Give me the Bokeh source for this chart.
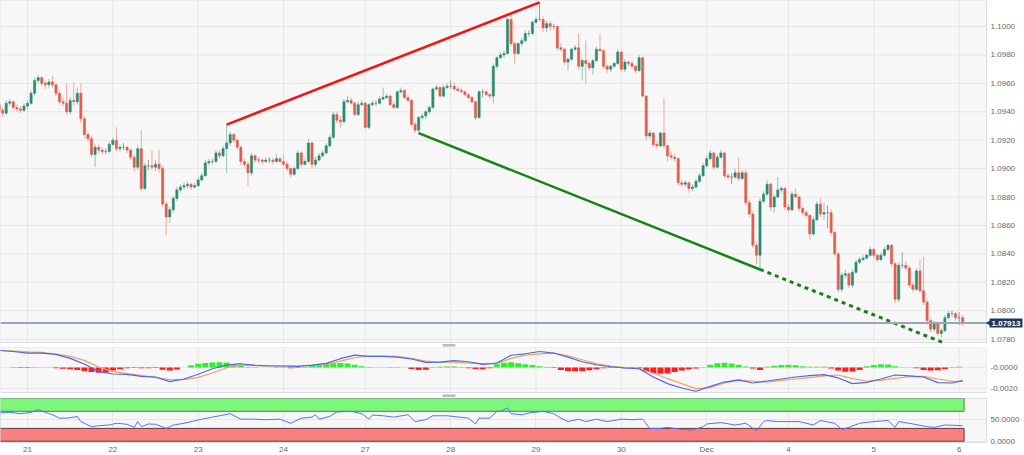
from bokeh.plotting import figure
from bokeh.layouts import column
from bokeh.models import (ColumnDataSource, Range1d, FixedTicker, PrintfTickFormatter, Label)
from bokeh.embed import file_html
from bokeh.resources import INLINE
from bokeh.core.properties import value

# ---------------- hourly EUR/USD candles (Nov 20 16:00 .. Dec 6 01:00) ----------------
opens = [
    1.0945, 1.0941, 1.0939, 1.0946, 1.0947, 1.0943, 1.0942, 1.0941, 1.0944, 1.0946,
    1.0953, 1.0962, 1.0964, 1.0960, 1.0959, 1.0961, 1.0959, 1.0953, 1.0947, 1.0946,
    1.0940, 1.0948, 1.0947, 1.0953, 1.0935, 1.0924, 1.0921, 1.0910, 1.0915, 1.0913,
    1.0912, 1.0912, 1.0917, 1.0920, 1.0914, 1.0915, 1.0915, 1.0913, 1.0908, 1.0901,
    1.0914, 1.0886, 1.0902, 1.0902, 1.0901, 1.0903, 1.0900, 1.0875, 1.0866, 1.0871,
    1.0879, 1.0885, 1.0887, 1.0888, 1.0889, 1.0887, 1.0888, 1.0892, 1.0895, 1.0904,
    1.0905, 1.0905, 1.0911, 1.0909, 1.0914, 1.0918, 1.0924, 1.0920, 1.0915, 1.0905,
    1.0903, 1.0897, 1.0909, 1.0906, 1.0906, 1.0905, 1.0906, 1.0906, 1.0905, 1.0907,
    1.0905, 1.0903, 1.0900, 1.0896, 1.0900, 1.0911, 1.0903, 1.0905, 1.0918, 1.0903,
    1.0906, 1.0909, 1.0911, 1.0916, 1.0922, 1.0938, 1.0934, 1.0933, 1.0947, 1.0948,
    1.0946, 1.0938, 1.0945, 1.0946, 1.0929, 1.0945, 1.0946, 1.0946, 1.0949, 1.0950,
    1.0951, 1.0945, 1.0943, 1.0954, 1.0955, 1.0950, 1.0948, 1.0931, 1.0927, 1.0936,
    1.0937, 1.0940, 1.0943, 1.0956, 1.0957, 1.0951, 1.0957, 1.0958, 1.0958, 1.0956,
    1.0955, 1.0954, 1.0952, 1.0950, 1.0947, 1.0936, 1.0954, 1.0954, 1.0952, 1.0951,
    1.0972, 1.0978, 1.0980, 1.0981, 1.1005, 1.0988, 1.0981, 1.0988, 1.0990, 1.0995,
    1.0995, 1.1003, 1.1005, 1.1005, 1.0999, 1.1002, 1.1000, 1.1000, 1.0985, 1.0984,
    1.0975, 1.0977, 1.0984, 1.0985, 1.0972, 1.0976, 1.0974, 1.0971, 1.0976, 1.0984,
    1.0983, 1.0972, 1.0970, 1.0972, 1.0974, 1.0982, 1.0970, 1.0975, 1.0974, 1.0972,
    1.0969, 1.0978, 1.0951, 1.0923, 1.0925, 1.0917, 1.0916, 1.0925, 1.0916, 1.0909,
    1.0908, 1.0907, 1.0890, 1.0889, 1.0890, 1.0886, 1.0887, 1.0891, 1.0895, 1.0902,
    1.0907, 1.0911, 1.0901, 1.0908, 1.0911, 1.0895, 1.0894, 1.0894, 1.0897, 1.0893,
    1.0897, 1.0876, 1.0868, 1.0846, 1.0839, 1.0877, 1.0882, 1.0889, 1.0873, 1.0880,
    1.0885, 1.0886, 1.0873, 1.0871, 1.0882, 1.0880, 1.0872, 1.0869, 1.0867, 1.0854,
    1.0864, 1.0875, 1.0868, 1.0869, 1.0869, 1.0855, 1.0840, 1.0815, 1.0825, 1.0826,
    1.0818, 1.0827, 1.0834, 1.0836, 1.0837, 1.0839, 1.0843, 1.0839, 1.0836, 1.0839,
    1.0843, 1.0846, 1.0833, 1.0808, 1.0832, 1.0832, 1.0830, 1.0818, 1.0815, 1.0828,
    1.0814, 1.0806, 1.0793, 1.0787, 1.0791, 1.0784, 1.0786, 1.0795, 1.0798, 1.0798,
    1.0795, 1.0795,
]
highs = [
    1.0947, 1.0943, 1.0948, 1.0949, 1.0948, 1.0945, 1.0944, 1.0946, 1.0948, 1.0955,
    1.0964, 1.0966, 1.0965, 1.0962, 1.0963, 1.0965, 1.0960, 1.0955, 1.0950, 1.0960,
    1.0950, 1.0961, 1.0957, 1.0960, 1.0937, 1.0926, 1.0923, 1.0917, 1.0917, 1.0915,
    1.0914, 1.0919, 1.0922, 1.0929, 1.0917, 1.0918, 1.0916, 1.0914, 1.0910, 1.0916,
    1.0927, 1.0904, 1.0906, 1.0913, 1.0906, 1.0913, 1.0902, 1.0877, 1.0873, 1.0881,
    1.0887, 1.0889, 1.0890, 1.0891, 1.0890, 1.0890, 1.0894, 1.0897, 1.0906, 1.0907,
    1.0907, 1.0913, 1.0913, 1.0916, 1.0931, 1.0926, 1.0925, 1.0921, 1.0916, 1.0907,
    1.0905, 1.0911, 1.0910, 1.0908, 1.0907, 1.0908, 1.0908, 1.0907, 1.0910, 1.0908,
    1.0910, 1.0905, 1.0901, 1.0902, 1.0913, 1.0912, 1.0907, 1.0921, 1.0919, 1.0908,
    1.0911, 1.0913, 1.0918, 1.0924, 1.0940, 1.0940, 1.0937, 1.0949, 1.0951, 1.0950,
    1.0947, 1.0947, 1.0948, 1.0947, 1.0946, 1.0948, 1.0948, 1.0951, 1.0957, 1.0953,
    1.0952, 1.0947, 1.0955, 1.0957, 1.0956, 1.0952, 1.0949, 1.0933, 1.0937, 1.0939,
    1.0941, 1.0944, 1.0957, 1.0959, 1.0958, 1.0959, 1.0960, 1.0962, 1.0961, 1.0958,
    1.0957, 1.0955, 1.0953, 1.0951, 1.0948, 1.0955, 1.0956, 1.0955, 1.0953, 1.0974,
    1.0979, 1.0982, 1.0983, 1.1006, 1.1008, 1.0989, 1.0989, 1.0992, 1.0997, 1.0997,
    1.1004, 1.1007, 1.1017, 1.1007, 1.1004, 1.1004, 1.1002, 1.1001, 1.0988, 1.0985,
    1.0978, 1.0985, 1.0987, 1.0995, 1.0978, 1.0990, 1.0975, 1.0977, 1.0986, 1.0995,
    1.0984, 1.0973, 1.0973, 1.0975, 1.0984, 1.0983, 1.0977, 1.0976, 1.0976, 1.0973,
    1.0980, 1.0979, 1.0952, 1.0927, 1.0926, 1.0919, 1.0926, 1.0950, 1.0917, 1.0912,
    1.0910, 1.0908, 1.0892, 1.0892, 1.0891, 1.0889, 1.0893, 1.0897, 1.0904, 1.0909,
    1.0913, 1.0912, 1.0910, 1.0913, 1.0912, 1.0897, 1.0897, 1.0900, 1.0908, 1.0899,
    1.0899, 1.0878, 1.0870, 1.0848, 1.0879, 1.0884, 1.0892, 1.0890, 1.0882, 1.0894,
    1.0888, 1.0887, 1.0875, 1.0884, 1.0886, 1.0881, 1.0873, 1.0871, 1.0868, 1.0866,
    1.0877, 1.0879, 1.0876, 1.0874, 1.0871, 1.0856, 1.0841, 1.0827, 1.0829, 1.0827,
    1.0829, 1.0836, 1.0838, 1.0839, 1.0840, 1.0845, 1.0844, 1.0840, 1.0841, 1.0845,
    1.0847, 1.0847, 1.0834, 1.0834, 1.0841, 1.0835, 1.0832, 1.0820, 1.0830, 1.0836,
    1.0838, 1.0808, 1.0795, 1.0793, 1.0792, 1.0788, 1.0797, 1.0800, 1.0800, 1.0799,
    1.0799, 1.0797,
]
lows = [
    1.0939, 1.0936, 1.0938, 1.0944, 1.0941, 1.0940, 1.0939, 1.0940, 1.0942, 1.0945,
    1.0951, 1.0960, 1.0958, 1.0956, 1.0957, 1.0957, 1.0951, 1.0945, 1.0944, 1.0938,
    1.0938, 1.0944, 1.0945, 1.0932, 1.0922, 1.0919, 1.0908, 1.0901, 1.0911, 1.0910,
    1.0910, 1.0911, 1.0916, 1.0912, 1.0912, 1.0913, 1.0911, 1.0906, 1.0898, 1.0899,
    1.0884, 1.0885, 1.0899, 1.0899, 1.0898, 1.0897, 1.0873, 1.0853, 1.0862, 1.0869,
    1.0877, 1.0883, 1.0885, 1.0886, 1.0885, 1.0886, 1.0887, 1.0891, 1.0894, 1.0902,
    1.0903, 1.0904, 1.0907, 1.0908, 1.0897, 1.0916, 1.0918, 1.0913, 1.0902, 1.0901,
    1.0888, 1.0895, 1.0904, 1.0904, 1.0903, 1.0904, 1.0904, 1.0903, 1.0904, 1.0904,
    1.0902, 1.0898, 1.0894, 1.0895, 1.0899, 1.0901, 1.0902, 1.0904, 1.0900, 1.0901,
    1.0905, 1.0908, 1.0910, 1.0915, 1.0921, 1.0932, 1.0929, 1.0932, 1.0946, 1.0945,
    1.0937, 1.0937, 1.0944, 1.0928, 1.0928, 1.0944, 1.0944, 1.0945, 1.0948, 1.0949,
    1.0944, 1.0942, 1.0942, 1.0953, 1.0949, 1.0947, 1.0930, 1.0925, 1.0925, 1.0934,
    1.0935, 1.0938, 1.0942, 1.0955, 1.0950, 1.0950, 1.0956, 1.0956, 1.0955, 1.0954,
    1.0953, 1.0951, 1.0949, 1.0946, 1.0934, 1.0935, 1.0950, 1.0951, 1.0949, 1.0946,
    1.0970, 1.0977, 1.0978, 1.0980, 1.0986, 1.0974, 1.0980, 1.0986, 1.0989, 1.0993,
    1.0994, 1.1002, 1.1004, 1.0996, 1.0996, 1.0997, 1.0998, 1.0983, 1.0982, 1.0973,
    1.0969, 1.0976, 1.0983, 1.0970, 1.0962, 1.0960, 1.0969, 1.0966, 1.0975, 1.0982,
    1.0970, 1.0967, 1.0968, 1.0971, 1.0973, 1.0968, 1.0968, 1.0972, 1.0970, 1.0967,
    1.0968, 1.0950, 1.0920, 1.0921, 1.0915, 1.0914, 1.0915, 1.0914, 1.0905, 1.0906,
    1.0905, 1.0888, 1.0887, 1.0887, 1.0883, 1.0884, 1.0886, 1.0890, 1.0894, 1.0901,
    1.0906, 1.0899, 1.0900, 1.0907, 1.0893, 1.0892, 1.0889, 1.0893, 1.0891, 1.0892,
    1.0874, 1.0866, 1.0844, 1.0833, 1.0829, 1.0876, 1.0881, 1.0870, 1.0869, 1.0879,
    1.0883, 1.0871, 1.0869, 1.0870, 1.0879, 1.0870, 1.0867, 1.0865, 1.0850, 1.0853,
    1.0863, 1.0866, 1.0864, 1.0858, 1.0853, 1.0838, 1.0813, 1.0813, 1.0823, 1.0816,
    1.0816, 1.0826, 1.0833, 1.0835, 1.0836, 1.0838, 1.0837, 1.0834, 1.0835, 1.0838,
    1.0842, 1.0831, 1.0805, 1.0806, 1.0830, 1.0828, 1.0816, 1.0813, 1.0814, 1.0812,
    1.0804, 1.0790, 1.0785, 1.0785, 1.0782, 1.0781, 1.0785, 1.0794, 1.0796, 1.0793,
    1.0790, 1.0789,
]
closes = [
    1.0941, 1.0939, 1.0946, 1.0947, 1.0943, 1.0942, 1.0941, 1.0944, 1.0946, 1.0953,
    1.0962, 1.0964, 1.0960, 1.0959, 1.0961, 1.0959, 1.0953, 1.0947, 1.0946, 1.0940,
    1.0948, 1.0947, 1.0953, 1.0935, 1.0924, 1.0921, 1.0910, 1.0915, 1.0913, 1.0912,
    1.0912, 1.0917, 1.0920, 1.0914, 1.0915, 1.0915, 1.0913, 1.0908, 1.0901, 1.0914,
    1.0886, 1.0902, 1.0902, 1.0901, 1.0903, 1.0900, 1.0875, 1.0866, 1.0871, 1.0879,
    1.0885, 1.0887, 1.0888, 1.0889, 1.0887, 1.0888, 1.0892, 1.0895, 1.0904, 1.0905,
    1.0905, 1.0911, 1.0909, 1.0914, 1.0918, 1.0924, 1.0920, 1.0915, 1.0905, 1.0903,
    1.0897, 1.0909, 1.0906, 1.0906, 1.0905, 1.0906, 1.0906, 1.0905, 1.0907, 1.0905,
    1.0903, 1.0900, 1.0896, 1.0900, 1.0911, 1.0903, 1.0905, 1.0918, 1.0903, 1.0906,
    1.0909, 1.0911, 1.0916, 1.0922, 1.0938, 1.0934, 1.0933, 1.0947, 1.0948, 1.0946,
    1.0938, 1.0945, 1.0946, 1.0929, 1.0945, 1.0946, 1.0946, 1.0949, 1.0950, 1.0951,
    1.0945, 1.0943, 1.0954, 1.0955, 1.0950, 1.0948, 1.0931, 1.0927, 1.0936, 1.0937,
    1.0940, 1.0943, 1.0956, 1.0957, 1.0951, 1.0957, 1.0958, 1.0958, 1.0956, 1.0955,
    1.0954, 1.0952, 1.0950, 1.0947, 1.0936, 1.0954, 1.0954, 1.0952, 1.0951, 1.0972,
    1.0978, 1.0980, 1.0981, 1.1005, 1.0988, 1.0981, 1.0988, 1.0990, 1.0995, 1.0995,
    1.1003, 1.1005, 1.1005, 1.0999, 1.1002, 1.1000, 1.1000, 1.0985, 1.0984, 1.0975,
    1.0977, 1.0984, 1.0985, 1.0972, 1.0976, 1.0974, 1.0971, 1.0976, 1.0984, 1.0983,
    1.0972, 1.0970, 1.0972, 1.0974, 1.0982, 1.0970, 1.0975, 1.0974, 1.0972, 1.0969,
    1.0978, 1.0951, 1.0923, 1.0925, 1.0917, 1.0916, 1.0925, 1.0916, 1.0909, 1.0908,
    1.0907, 1.0890, 1.0889, 1.0890, 1.0886, 1.0887, 1.0891, 1.0895, 1.0902, 1.0907,
    1.0911, 1.0901, 1.0908, 1.0911, 1.0895, 1.0894, 1.0894, 1.0897, 1.0893, 1.0897,
    1.0876, 1.0868, 1.0846, 1.0839, 1.0877, 1.0882, 1.0889, 1.0873, 1.0880, 1.0885,
    1.0886, 1.0873, 1.0871, 1.0882, 1.0880, 1.0872, 1.0869, 1.0867, 1.0854, 1.0864,
    1.0875, 1.0868, 1.0869, 1.0869, 1.0855, 1.0840, 1.0815, 1.0825, 1.0826, 1.0818,
    1.0827, 1.0834, 1.0836, 1.0837, 1.0839, 1.0843, 1.0839, 1.0836, 1.0839, 1.0843,
    1.0846, 1.0833, 1.0808, 1.0832, 1.0832, 1.0830, 1.0818, 1.0815, 1.0828, 1.0814,
    1.0806, 1.0793, 1.0787, 1.0791, 1.0784, 1.0786, 1.0795, 1.0798, 1.0798, 1.0795,
    1.0795, 1.07913,
]

# day separators (bar index of each day's 00:00) and their labels
day_pos = [8, 32, 56, 80, 103, 127, 151, 175, 199, 222, 246, 270]
day_labels = ["21", "22", "23", "24", "27", "28", "29", "30", "Dec", "4", "5", "6"]
price_ticks = [1.0780, 1.0800, 1.0820, 1.0840, 1.0860, 1.0880, 1.0900,
               1.0920, 1.0940, 1.0960, 1.0980, 1.1000]
macd_ticks = [-0.002, 0.0]
rsi_ticks = [0, 50]

# trend lines (bar index, price)
red_line_x = [64, 152]
red_line_y = [1.0931, 1.1017]
green_line_x = [118, 214]
green_line_y = [1.0925, 1.0829]
green_ext_x = [214, 266]
green_ext_y = [1.0829, 1.0777]

# ---------------- MACD (blue), signal (orange), histogram ----------------
macd_idx = [0, 4, 8, 12, 16, 20, 24, 28, 32, 36, 40, 44, 48, 52, 56, 60, 64, 68, 72, 76,
            80, 84, 88, 92, 96, 100, 104, 108, 112, 116, 120, 124, 128, 132, 136, 140,
            144, 148, 152, 156, 160, 164, 168, 172, 176, 180, 184, 188, 192, 196, 200,
            204, 208, 212, 216, 220, 224, 228, 232, 236, 240, 244, 248, 252, 256, 260,
            264, 268, 271]
macd_line = [0.00162, 0.00152, 0.00137, 0.00137, 0.00124, 0.00086, 0.00032, -0.00041,
             -0.00063, -0.00066, -0.00086, -0.00092, -0.00136, -0.00111, -0.00066,
             -0.00013, 0.00022, 0.00035, 0.00019, 0.00013, 0.00013, 0.00010, 0.00022,
             0.00038, 0.00083, 0.00117, 0.00105, 0.00105, 0.00098, 0.00080, 0.00048,
             0.00051, 0.00064, 0.00054, 0.00029, 0.00041, 0.00116, 0.00130, 0.00152,
             0.00137, 0.00098, 0.00054, 0.00025, 0.00006, -0.00006, -0.00013, -0.00092,
             -0.00155, -0.00197, -0.00228, -0.00181, -0.00140, -0.00120, -0.00149,
             -0.00130, -0.00111, -0.00092, -0.00079, -0.00070, -0.00101, -0.00155,
             -0.00143, -0.00111, -0.00073, -0.00082, -0.00092, -0.00146, -0.00149,
             -0.00127]
signal_line = [0.00162, 0.00156, 0.00149, 0.00143, 0.00127, 0.00105, 0.00067, 0.00003,
               -0.00041, -0.00060, -0.00076, -0.00098, -0.00117, -0.00117, -0.00095,
               -0.00054, -0.00003, 0.00022, 0.00019, 0.00016, 0.00013, 0.00013, 0.00019,
               0.00032, 0.00060, 0.00092, 0.00108, 0.00108, 0.00105, 0.00086, 0.00060,
               0.00051, 0.00051, 0.00041, 0.00035, 0.00038, 0.00086, 0.00117, 0.00130,
               0.00137, 0.00111, 0.00073, 0.00035, 0.00013, -0.00003, -0.00013, -0.00054,
               -0.00108, -0.00155, -0.00203, -0.00194, -0.00149, -0.00124, -0.00130,
               -0.00140, -0.00124, -0.00111, -0.00098, -0.00082, -0.00073, -0.00108,
               -0.00130, -0.00124, -0.00105, -0.00089, -0.00086, -0.00111, -0.00133,
               -0.00133]
hist_vals = [0.0, 0.0, -0.00004, -0.00006, -0.00006, -0.00003, 0.00002, 0.00001,
             -0.00008, -0.00013, -0.00019, -0.00025, -0.00035, -0.00044, -0.00052,
             -0.00050, -0.00030, -0.00018, -0.00008, -0.00006, -0.00008, -0.00008,
             -0.00006, -0.00022, -0.00029, -0.00020, -0.00002, 0.00020, 0.00035,
             0.00042, 0.00047, 0.00049, 0.00047, 0.00030, 0.00015, 0.00004, -0.00003,
             -0.00002, -0.00002, -0.00003, -0.00004, -0.00008, -0.00006, 0.00004,
             0.00020, 0.00030, 0.00035, 0.00040, 0.00042, 0.00038, 0.00025, 0.00012,
             0.00003, 0.00002, 0.00001, -0.00004, -0.00004, -0.00002, -0.00015,
             -0.00025, -0.00022, -0.00003, 0.00006, 0.00008, 0.00008, 0.00004,
             -0.00008, -0.00015, -0.00018, -0.00008, 0.00030, 0.00045, 0.00048,
             0.00040, 0.00030, 0.00022, 0.00012, 0.00003, -0.00006, -0.00025,
             -0.00035, -0.00038, -0.00035, -0.00028, -0.00015, -0.00008, -0.00006,
             -0.00006, -0.00008, -0.00006, -0.00010, -0.00040, -0.00055, -0.00060,
             -0.00058, -0.00045, -0.00030, -0.00018, -0.00010, -0.00004, 0.00025,
             0.00040, 0.00044, 0.00038, 0.00025, 0.00008, -0.00010, -0.00025, 0.00005,
             0.00015, 0.00022, 0.00026, 0.00020, 0.00012, 0.00005, 0.00006, 0.00005,
             -0.00010, -0.00030, -0.00042, -0.00040, -0.00025, 0.00010, 0.00022,
             0.00030, 0.00028, 0.00012, 0.00002, 0.00001, -0.00008, -0.00025, -0.00030,
             -0.00028, -0.00015, 0.00004, 0.00006]
hist_idx = list(range(0, 2 * len(hist_vals), 2))

# ---------------- RSI ----------------
rsi_idx = [0, 3, 6, 9, 11, 13, 15, 17, 19, 21, 22, 23, 26, 28, 31, 33, 36, 38, 39, 40,
           42, 44, 47, 49, 52, 57, 60, 65, 68, 71, 75, 79, 82, 85, 88, 89, 90, 93, 95,
           99, 102, 104, 105, 108, 111, 115, 117, 120, 122, 126, 132, 134, 135, 138,
           140, 141, 143, 144, 147, 149, 153, 156, 158, 160, 163, 165, 168, 171, 175,
           178, 181, 183, 186, 188, 192, 195, 198, 199, 203, 207, 210, 213, 215, 216,
           219, 222, 225, 229, 231, 235, 237, 239, 242, 246, 250, 252, 253, 257, 261,
           263, 266, 271]
rsi_vals = [66.0, 67.6, 64.4, 67.6, 74.0, 67.6, 62.0, 54.0, 54.0, 56.4, 58.0, 46.0, 34.0,
            36.4, 38.0, 42.0, 39.6, 32.4, 46.0, 34.0, 40.4, 39.6, 30.0, 38.0, 42.0, 51.6,
            56.4, 64.4, 51.6, 51.6, 50.4, 51.6, 42.0, 54.0, 56.4, 62.0, 51.6, 58.0, 68.4,
            70.0, 64.4, 51.6, 61.2, 59.6, 56.4, 62.0, 46.0, 50.4, 59.6, 59.6, 54.0, 40.4,
            54.0, 54.0, 70.0, 70.0, 78.0, 64.4, 62.0, 66.0, 70.0, 64.4, 54.0, 46.0, 51.6,
            46.0, 51.6, 46.0, 51.6, 50.4, 51.6, 30.0, 30.0, 32.4, 27.6, 26.0, 34.0, 40.4,
            43.6, 38.0, 42.0, 24.4, 46.0, 48.4, 46.0, 46.0, 46.0, 38.0, 48.4, 42.0, 27.6,
            32.4, 42.0, 46.0, 48.4, 32.4, 46.0, 40.4, 34.0, 32.4, 38.0, 36.4]
rsi_upper = [70, 100]
rsi_lower = [0, 30]

# ---------------- layout / styling constants ----------------
FONT = "Liberation Sans"
BG = "#f7f7f7"
GRID = "#e6e6e6"
OUTLINE = "#d9dee4"
HANDLE = "#b9b9b9"
UP, DOWN, FLAT = "#2b8a70", "#e25d4b", "#7d7d7d"
UP_W, DOWN_W, FLAT_W = "#93c4b6", "#eea99f", "#9a9a9a"

CH_W, AX_W = 986, 38          # chart area width / right axis column width (px)
X0, XE = 0.4, 277.7           # visible bar span
Y0, Y1 = 1.07776, 1.10183     # visible price span
MAIN_H, GAP = 342, 5          # panel height / gap below it (px)
M0, M1 = -0.0024, 0.0019      # MACD panel span
MACD_H, GAP2 = 45, 5
HANDLE_X, HANDLE_HALF = 126.5, 1.8   # splitter grip position (bar units)

n = len(closes)
idx = list(range(n))
body_top = [max(o, c) for o, c in zip(opens, closes)]
body_bot = [min(o, c) for o, c in zip(opens, closes)]
body_col = [UP if c > o else (DOWN if c < o else FLAT) for o, c in zip(opens, closes)]
wick_col = [UP_W if c > o else (DOWN_W if c < o else FLAT_W) for o, c in zip(opens, closes)]
src = ColumnDataSource(dict(x=idx, high=highs, low=lows, top=body_top, bottom=body_bot,
                            color=body_col, wick=wick_col))

# ---------------- main price panel (frame spans chart + price-axis column + gap) ----------------
py = (Y1 - Y0) / MAIN_H
main_x = Range1d(X0, X0 + (XE - X0) * (CH_W + AX_W) / CH_W)
p = figure(frame_width=CH_W + AX_W, frame_height=MAIN_H + GAP, x_range=main_x,
           y_range=Range1d(Y0 - GAP * py, Y1), output_backend="svg",
           toolbar_location=None, x_axis_location=None, y_axis_location=None,
           min_border=0, background_fill_color="white", border_fill_color="white",
           outline_line_color=None)
p.grid.visible = False

p.quad(left=[X0], right=[XE], bottom=[Y0], top=[Y1], fill_color=BG,
       line_color=OUTLINE, line_width=1)
p.segment(x0=day_pos, x1=day_pos, y0=[Y0] * len(day_pos), y1=[Y1] * len(day_pos),
          line_color=GRID, line_width=1)
p.segment(x0=[X0] * len(price_ticks), x1=[XE] * len(price_ticks), y0=price_ticks,
          y1=price_ticks, line_color=GRID, line_width=1)
p.text(x=[XE + 1.15] * len(price_ticks), y=price_ticks,
       text=["%.4f" % t for t in price_ticks], text_font=value(FONT),
       text_font_size="8px", text_color="#666666", text_baseline="middle",
       text_align="left")
p.quad(left=[HANDLE_X - HANDLE_HALF], right=[HANDLE_X + HANDLE_HALF],
       bottom=[Y0 - 4 * py], top=[Y0 - 1.5 * py], fill_color=HANDLE, line_color=None)

p.segment(x0="x", y0="high", x1="x", y1="low", color="wick", line_width=1, source=src)
p.vbar(x="x", width=0.6, top="top", bottom="bottom", fill_color="color",
       line_color="color", line_width=0.6, source=src)

p.line(red_line_x, red_line_y, line_color="#f21414", line_width=2.5)
p.line(green_line_x, green_line_y, line_color="#168216", line_width=2.5)
p.line(green_ext_x, green_ext_y, line_color="#168216", line_width=3, line_dash="4 4")

last = closes[-1]
p.segment(x0=[X0], x1=[XE], y0=[last], y1=[last], line_color="#98a6b8", line_width=2)
p.scatter(x=[XE + 0.75], y=[last], marker="triangle", angle=1.5708, size=6,
          fill_color="#1d3a5c", line_color=None)
p.add_layout(Label(x=XE + 0.85, y=last, text="%.5f" % last,
                   text_font=FONT, text_font_size="8px", text_font_style="bold",
                   text_color="white", text_baseline="middle",
                   background_fill_color="#1d3a5c", padding=2))

sub_x = Range1d(X0, XE)


def style_axis(f):
    f.yaxis.axis_line_color = None
    f.yaxis.major_tick_line_color = None
    f.yaxis.minor_tick_line_color = None
    f.yaxis.major_tick_out = 0
    f.yaxis.major_tick_in = 0
    f.yaxis.major_label_text_font = FONT
    f.yaxis.major_label_text_font_size = "8px"
    f.yaxis.major_label_text_color = "#666666"
    f.yaxis.major_label_standoff = 4


# ---------------- MACD panel (frame includes the gap below it) ----------------
mpy = (M1 - M0) / MACD_H
hist_col = ["#2ef02e" if v >= 0 else "#ff1c1c" for v in hist_vals]
m = figure(frame_width=CH_W, frame_height=MACD_H + GAP2, x_range=sub_x,
           y_range=Range1d(M0 - GAP2 * mpy, M1), output_backend="svg",
           toolbar_location=None, y_axis_location="right", x_axis_location=None,
           min_border_left=0, min_border_right=AX_W, min_border_top=0,
           min_border_bottom=0, background_fill_color="white",
           border_fill_color="white", outline_line_color=None)
m.grid.visible = False
style_axis(m)
m.yaxis.ticker = FixedTicker(ticks=macd_ticks)
m.yaxis.formatter = PrintfTickFormatter(format="%.4f")
m.yaxis.major_label_overrides = {0: "-0.0000"}
m.quad(left=[X0], right=[XE], bottom=[M0], top=[M1], fill_color=BG,
       line_color=OUTLINE, line_width=1)
m.segment(x0=day_pos, x1=day_pos, y0=[M0] * len(day_pos), y1=[M1] * len(day_pos),
          line_color=GRID, line_width=1)
m.segment(x0=[X0] * len(macd_ticks), x1=[XE] * len(macd_ticks), y0=macd_ticks,
          y1=macd_ticks, line_color=GRID, line_width=1)
m.quad(left=[HANDLE_X - HANDLE_HALF], right=[HANDLE_X + HANDLE_HALF],
       bottom=[M0 - 4.5 * mpy], top=[M0 - 2 * mpy], fill_color=HANDLE, line_color=None)
m.vbar(x=hist_idx, width=1.7, top=hist_vals, bottom=0, fill_color=hist_col,
       line_color=None)
m.line(macd_idx, signal_line, line_color="#f2a15e", line_width=1.2)
m.line(macd_idx, macd_line, line_color="#4a68f0", line_width=1.2)

# ---------------- RSI panel ----------------
r = figure(frame_width=CH_W, frame_height=44, x_range=sub_x, y_range=Range1d(-3, 100),
           output_backend="svg", toolbar_location=None, y_axis_location="right",
           min_border_left=0, min_border_right=AX_W, min_border_top=1,
           min_border_bottom=0, background_fill_color=BG, border_fill_color="white",
           outline_line_color=OUTLINE)
style_axis(r)
r.yaxis.ticker = FixedTicker(ticks=rsi_ticks)
r.yaxis.formatter = PrintfTickFormatter(format="%.4f")
r.xgrid.ticker = FixedTicker(ticks=day_pos)
r.xgrid.grid_line_color = GRID
r.ygrid.grid_line_color = GRID
r.xaxis.ticker = FixedTicker(ticks=day_pos)
r.xaxis.major_label_overrides = dict(zip(day_pos, day_labels))
r.xaxis.axis_line_color = None
r.xaxis.major_tick_line_color = None
r.xaxis.minor_tick_line_color = None
r.xaxis.major_tick_out = 0
r.xaxis.major_tick_in = 0
r.xaxis.major_label_text_font = FONT
r.xaxis.major_label_text_font_size = "8px"
r.xaxis.major_label_text_color = "#666666"
r.xaxis.major_label_standoff = 2
band_right = idx[-1] + 0.4
r.quad(left=[X0 - 2], right=[band_right], bottom=[rsi_upper[0]], top=[rsi_upper[1]],
       fill_color="#7cf77c", line_color="#3b8f3b", line_width=1)
r.quad(left=[X0 - 2], right=[band_right], bottom=[rsi_lower[0]], top=[rsi_lower[1]],
       fill_color="#f98080", line_color="#6e3434", line_width=1)
r.line(rsi_idx, rsi_vals, line_color="#5672f2", line_width=1)

layout = column(p, m, r, spacing=0)
open("out.html", "w").write(file_html(layout, INLINE))
